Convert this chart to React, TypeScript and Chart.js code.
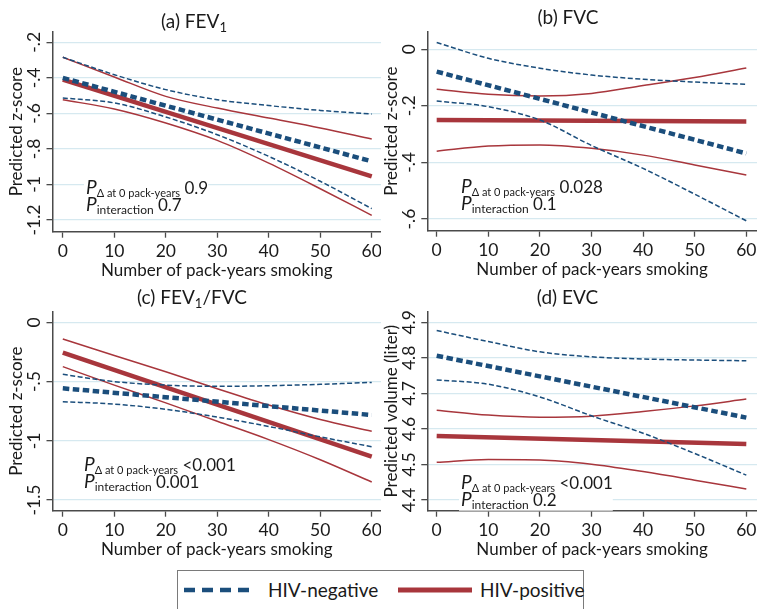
import React, { useEffect, useRef } from "react";
import { Chart, registerables } from "chart.js";

Chart.register(...registerables);

// ---------- shared data ----------
const ciPackYears = [0, 10, 20, 30, 40, 50, 60];
const meanPackYears = [0, 60];
const xTickValues = [0, 10, 20, 30, 40, 50, 60];
const xTickLabels = ["0", "10", "20", "30", "40", "50", "60"];
const seriesNames = ["HIV-negative", "HIV-positive"];

// ---------- (a) FEV1 ----------
const fev1NegMean = [-0.4, -0.87];
const fev1NegUpper = [-0.284, -0.382, -0.466, -0.523, -0.556, -0.583, -0.603];
const fev1NegLower = [-0.513, -0.541, -0.62, -0.72, -0.842, -0.982, -1.136];
const fev1PosMean = [-0.41, -0.954];
const fev1PosUpper = [-0.284, -0.395, -0.504, -0.57, -0.626, -0.682, -0.744];
const fev1PosLower = [-0.523, -0.575, -0.654, -0.752, -0.88, -1.024, -1.174];
const fev1YTicks = [-1.2, -1, -0.8, -0.6, -0.4, -0.2];
const fev1YLabels = ["-1.2", "-1", "-.8", "-.6", "-.4", "-.2"];

// ---------- (b) FVC ----------
const fvcNegMean = [-0.079, -0.368];
const fvcNegUpper = [0.024, -0.032, -0.067, -0.091, -0.106, -0.116, -0.124];
const fvcNegLower = [-0.183, -0.203, -0.25, -0.34, -0.421, -0.512, -0.606];
const fvcPosMean = [-0.25, -0.255];
const fvcPosUpper = [-0.141, -0.159, -0.165, -0.156, -0.128, -0.1, -0.066];
const fvcPosLower = [-0.36, -0.342, -0.338, -0.35, -0.374, -0.409, -0.444];
const fvcYTicks = [-0.6, -0.4, -0.2, 0];
const fvcYLabels = ["-.6", "-.4", "-.2", "0"];

// ---------- (c) FEV1/FVC ----------
const ratioNegMean = [-0.557, -0.782];
const ratioNegUpper = [-0.439, -0.5, -0.53, -0.54, -0.535, -0.523, -0.507];
const ratioNegLower = [-0.67, -0.69, -0.734, -0.8, -0.879, -0.967, -1.05];
const ratioPosMean = [-0.256, -1.134];
const ratioPosUpper = [-0.141, -0.28, -0.417, -0.56, -0.698, -0.82, -0.92];
const ratioPosLower = [-0.374, -0.53, -0.68, -0.835, -0.99, -1.16, -1.348];
const ratioYTicks = [-1.5, -1, -0.5, 0];
const ratioYLabels = ["-1.5", "-1", "-.5", "0"];

// ---------- (d) EVC ----------
const evcNegMean = [4.806, 4.632];
const evcNegUpper = [4.877, 4.846, 4.817, 4.803, 4.797, 4.794, 4.792];
const evcNegLower = [4.738, 4.726, 4.69, 4.637, 4.588, 4.531, 4.47];
const evcPosMean = [4.58, 4.558];
const evcPosUpper = [4.653, 4.639, 4.633, 4.636, 4.649, 4.665, 4.684];
const evcPosLower = [4.506, 4.514, 4.513, 4.501, 4.48, 4.456, 4.431];
const evcYTicks = [4.4, 4.5, 4.6, 4.7, 4.8, 4.9];
const evcYLabels = ["4.4", "4.5", "4.6", "4.7", "4.8", "4.9"];

// ---------- styling ----------
const BLUE = "#1b4e7c";
const RED = "#a8363c";
const GRID = "#d6e9f0";
const AXIS = "#4a4a4a";
const TEXT = "#1a1a1a";
const FONT = "Lato, 'Open Sans', sans-serif";

type PanelCfg = {
  key: string;
  left: number;
  top: number;
  width: number;
  height: number;
  plotLeft: number;
  plotTop: number;
  plotBottom: number;
  xMin: number;
  xMax: number;
  yMin: number;
  yMax: number;
  yTicks: number[];
  yLabels: string[];
  titleParts: { text: string; sub?: boolean }[];
  titleX: number;
  titleBase: number;
  yTitle: string;
  pDelta: string;
  pInter: string;
  pX: number;
  pOff1: number;
  pOff2: number;
  negMean: number[];
  negUpper: number[];
  negLower: number[];
  posMean: number[];
  posUpper: number[];
  posLower: number[];
};

const panels: PanelCfg[] = [
  {
    key: "a", left: 0, top: 0, width: 381, height: 280,
    plotLeft: 52.5, plotTop: 31.7, plotBottom: 231.7,
    xMin: -2, xMax: 61.8, yMin: -1.266, yMax: -0.14,
    yTicks: fev1YTicks, yLabels: fev1YLabels,
    titleParts: [{ text: "(a) FEV" }, { text: "1", sub: true }],
    titleX: 194, titleBase: 28,
    yTitle: "Predicted z-score",
    pDelta: "0.9", pInter: "0.7", pX: 86, pOff1: -38, pOff2: -20.5,
    negMean: fev1NegMean, negUpper: fev1NegUpper, negLower: fev1NegLower,
    posMean: fev1PosMean, posUpper: fev1PosUpper, posLower: fev1PosLower,
  },
  {
    key: "b", left: 378, top: 0, width: 379, height: 280,
    plotLeft: 49.3, plotTop: 31.7, plotBottom: 230.7,
    xMin: -1.82, xMax: 62.07, yMin: -0.641, yMax: 0.062,
    yTicks: fvcYTicks, yLabels: fvcYLabels,
    titleParts: [{ text: "(b) FVC" }],
    titleX: 190, titleBase: 24,
    yTitle: "Predicted z-score",
    pDelta: "0.028", pInter: "0.1", pX: 83, pOff1: -38, pOff2: -20.5,
    negMean: fvcNegMean, negUpper: fvcNegUpper, negLower: fvcNegLower,
    posMean: fvcPosMean, posUpper: fvcPosUpper, posLower: fvcPosLower,
  },
  {
    key: "c", left: 0, top: 280, width: 381, height: 280,
    plotLeft: 52.5, plotTop: 31.7, plotBottom: 230.7,
    xMin: -2, xMax: 61.8, yMin: -1.59, yMax: 0.09,
    yTicks: ratioYTicks, yLabels: ratioYLabels,
    titleParts: [{ text: "(c) FEV" }, { text: "1", sub: true }, { text: "/FVC" }],
    titleX: 192, titleBase: 24,
    yTitle: "Predicted z-score",
    pDelta: "<0.001", pInter: "0.001", pX: 84, pOff1: -40, pOff2: -22.5,
    negMean: ratioNegMean, negUpper: ratioNegUpper, negLower: ratioNegLower,
    posMean: ratioPosMean, posUpper: ratioPosUpper, posLower: ratioPosLower,
  },
  {
    key: "d", left: 378, top: 280, width: 379, height: 280,
    plotLeft: 49.3, plotTop: 31.7, plotBottom: 230.7,
    xMin: -1.82, xMax: 62.07, yMin: 4.37, yMax: 4.93,
    yTicks: evcYTicks, yLabels: evcYLabels,
    titleParts: [{ text: "(d) EVC" }],
    titleX: 189.5, titleBase: 24,
    yTitle: "Predicted volume (liter)",
    pDelta: "<0.001", pInter: "0.2", pX: 83, pOff1: -21.5, pOff2: -5,
    negMean: evcNegMean, negUpper: evcNegUpper, negLower: evcNegLower,
    posMean: evcPosMean, posUpper: evcPosUpper, posLower: evcPosLower,
  },
];

function pts(xs: number[], ys: number[]) {
  return xs.map((x, i) => ({ x, y: ys[i] }));
}

type Part = { text: string; font: string; dy: number };

function drawParts(ctx: CanvasRenderingContext2D, parts: Part[], x: number, base: number, center: boolean) {
  const widths = parts.map((p) => {
    ctx.font = p.font;
    return ctx.measureText(p.text).width;
  });
  const total = widths.reduce((a, b) => a + b, 0);
  let cx = center ? x - total / 2 : x;
  ctx.textAlign = "left";
  ctx.textBaseline = "alphabetic";
  parts.forEach((p, i) => {
    ctx.font = p.font;
    ctx.fillText(p.text, cx, base + p.dy);
    cx += widths[i];
  });
  return total;
}

function measureParts(ctx: CanvasRenderingContext2D, parts: Part[]) {
  return parts.reduce((s, p) => {
    ctx.font = p.font;
    return s + ctx.measureText(p.text).width;
  }, 0);
}

function pLines(cfg: PanelCfg): Part[][] {
  const pFont = `italic 19px ${FONT}`;
  const subFont = `11px ${FONT}`;
  const valFont = `17px ${FONT}`;
  return [
    [
      { text: "P", font: pFont, dy: 0 },
      { text: "\u0394 at 0 pack-years", font: subFont, dy: 3 },
      { text: " " + cfg.pDelta, font: valFont, dy: 0 },
    ],
    [
      { text: "P", font: pFont, dy: 0 },
      { text: "interaction", font: `12px ${FONT}`, dy: 3 },
      { text: " " + cfg.pInter, font: valFont, dy: 0 },
    ],
  ];
}

function Panel({ cfg }: { cfg: PanelCfg }) {
  const ref = useRef<HTMLCanvasElement | null>(null);
  useEffect(() => {
    const canvas = ref.current;
    if (!canvas) return;

    const textPlugin = {
      id: "panelText" + cfg.key,
      beforeDatasetsDraw(chart: any) {
        const ctx: CanvasRenderingContext2D = chart.ctx;
        const lines = pLines(cfg);
        const b1 = cfg.plotBottom + cfg.pOff1;
        const b2 = cfg.plotBottom + cfg.pOff2;
        const w = Math.max(measureParts(ctx, lines[0]), measureParts(ctx, lines[1]));
        ctx.save();
        ctx.fillStyle = "#ffffff";
        ctx.fillRect(cfg.pX - 2, b1 - 15, w + 2, b2 - b1 + 20);
        ctx.fillStyle = TEXT;
        drawParts(ctx, lines[0], cfg.pX, b1, false);
        drawParts(ctx, lines[1], cfg.pX, b2, false);
        ctx.restore();
      },
      afterDraw(chart: any) {
        const ctx: CanvasRenderingContext2D = chart.ctx;
        const xs = chart.scales.x;
        const ys = chart.scales.y;
        const area = chart.chartArea;
        ctx.save();
        ctx.fillStyle = TEXT;

        // title
        const titleParts: Part[] = cfg.titleParts.map((p) =>
          p.sub
            ? { text: p.text, font: `13px ${FONT}`, dy: 4 }
            : { text: p.text, font: `19px ${FONT}`, dy: 0 }
        );
        drawParts(ctx, titleParts, cfg.titleX, cfg.titleBase, true);

        // x tick labels
        ctx.font = `17.5px ${FONT}`;
        ctx.textAlign = "center";
        ctx.textBaseline = "middle";
        xs.ticks.forEach((t: any) => {
          const idx = xTickValues.indexOf(t.value);
          const label = idx >= 0 ? xTickLabels[idx] : String(t.value);
          ctx.fillText(label, xs.getPixelForValue(t.value), area.bottom + 20);
        });

        // x title
        ctx.font = `17px ${FONT}`;
        ctx.fillText("Number of pack-years smoking", (area.left + area.right) / 2, area.bottom + 38.5);

        // y tick labels, rotated
        ctx.font = `17.5px ${FONT}`;
        ys.ticks.forEach((t: any) => {
          const idx = cfg.yTicks.indexOf(t.value);
          const label = idx >= 0 ? cfg.yLabels[idx] : String(t.value);
          ctx.save();
          ctx.translate(area.left - 18, ys.getPixelForValue(t.value));
          ctx.rotate(-Math.PI / 2);
          ctx.textAlign = "center";
          ctx.textBaseline = "middle";
          ctx.fillText(label, 0, 0);
          ctx.restore();
        });

        // y title
        ctx.save();
        ctx.font = `17px ${FONT}`;
        ctx.translate(area.left - 36, (area.top + area.bottom) / 2);
        ctx.rotate(-Math.PI / 2);
        ctx.textAlign = "center";
        ctx.textBaseline = "middle";
        ctx.fillText(cfg.yTitle, 0, 0);
        ctx.restore();

        ctx.restore();
      },
    };

    const ciLine = (ys: number[], color: string, dashed: boolean) => ({
      data: pts(ciPackYears, ys),
      borderColor: color,
      borderWidth: 1.5,
      borderDash: dashed ? [5, 2.5] : [],
      pointRadius: 0,
      fill: false,
      cubicInterpolationMode: "monotone" as const,
    });

    const chart = new Chart(canvas, {
      type: "line",
      data: {
        datasets: [
          {
            label: seriesNames[0],
            data: pts(meanPackYears, cfg.negMean),
            borderColor: BLUE,
            borderWidth: 4.5,
            borderDash: [6.5, 3.5],
            pointRadius: 0,
            fill: false,
          },
          ciLine(cfg.negUpper, BLUE, true),
          ciLine(cfg.negLower, BLUE, true),
          {
            label: seriesNames[1],
            data: pts(meanPackYears, cfg.posMean),
            borderColor: RED,
            borderWidth: 4.5,
            pointRadius: 0,
            fill: false,
          },
          ciLine(cfg.posUpper, RED, false),
          ciLine(cfg.posLower, RED, false),
        ] as any,
      },
      options: {
        animation: false,
        responsive: false,
        maintainAspectRatio: false,
        events: [],
        layout: { padding: { top: cfg.plotTop, left: 0, right: 0, bottom: 0 } },
        plugins: {
          legend: { display: false },
          tooltip: { enabled: false },
          title: { display: false },
        },
        scales: {
          x: {
            type: "linear",
            min: cfg.xMin,
            max: cfg.xMax,
            afterBuildTicks: (s: any) => {
              s.ticks = xTickValues.map((v) => ({ value: v }));
            },
            afterFit: (s: any) => {
              s.height = cfg.height - cfg.plotBottom;
            },
            grid: {
              display: true,
              drawOnChartArea: false,
              drawTicks: true,
              tickLength: 6,
              tickColor: AXIS,
              tickWidth: 1.3,
            },
            border: { display: true, color: AXIS, width: 1.5 },
            ticks: { display: false },
          },
          y: {
            type: "linear",
            min: cfg.yMin,
            max: cfg.yMax,
            afterBuildTicks: (s: any) => {
              s.ticks = cfg.yTicks.map((v) => ({ value: v }));
            },
            afterFit: (s: any) => {
              s.width = cfg.plotLeft;
            },
            grid: {
              display: true,
              color: GRID,
              lineWidth: 1.3,
              drawTicks: true,
              tickLength: 6,
              tickColor: AXIS,
              tickWidth: 1.3,
            },
            border: { display: true, color: AXIS, width: 1.5 },
            ticks: { display: false },
          },
        },
      } as any,
      plugins: [textPlugin],
    });
    return () => chart.destroy();
  }, [cfg]);

  return (
    <canvas
      ref={ref}
      width={cfg.width}
      height={cfg.height}
      style={{
        position: "absolute",
        left: cfg.left,
        top: cfg.top,
        width: cfg.width,
        height: cfg.height,
      }}
    />
  );
}

function Legend() {
  return (
    <div
      style={{
        position: "absolute",
        left: 177,
        top: 570,
        width: 407,
        height: 50,
        border: "1.5px solid #7a7a7a",
        boxSizing: "border-box",
        background: "#fff",
        fontFamily: FONT,
        fontSize: 19,
        color: TEXT,
      }}
    >
      <svg width={80} height={30} style={{ position: "absolute", left: 4, top: 4 }}>
        <line x1={2} y1={15} x2={70} y2={15} stroke={BLUE} strokeWidth={4.5} strokeDasharray="11 7" />
      </svg>
      <span style={{ position: "absolute", left: 90, top: 7, lineHeight: "24px", whiteSpace: "nowrap" }}>
        {seriesNames[0]}
      </span>
      <svg width={80} height={30} style={{ position: "absolute", left: 218, top: 4 }}>
        <line x1={2} y1={15} x2={76} y2={15} stroke={RED} strokeWidth={5} />
      </svg>
      <span style={{ position: "absolute", left: 302, top: 7, lineHeight: "24px", whiteSpace: "nowrap" }}>
        {seriesNames[1]}
      </span>
    </div>
  );
}

export default function App() {
  return (
    <div
      style={{
        position: "absolute",
        left: 0,
        top: 0,
        width: 757,
        height: 609,
        background: "#ffffff",
        overflow: "hidden",
      }}
    >
      {panels.map((p) => (
        <Panel key={p.key} cfg={p} />
      ))}
      <Legend />
    </div>
  );
}
